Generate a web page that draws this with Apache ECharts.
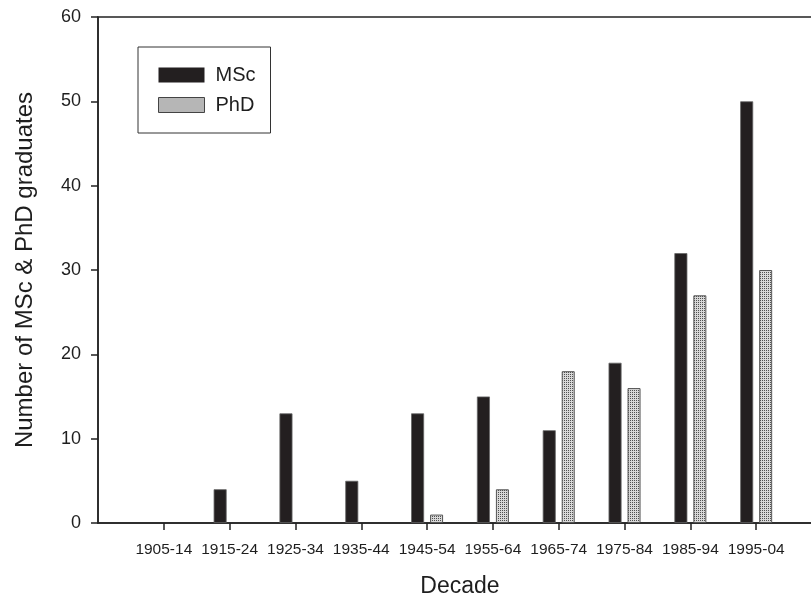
<!DOCTYPE html>
<html>
<head>
<meta charset="utf-8">
<script src="https://cdn.jsdelivr.net/npm/echarts@6/dist/echarts.min.js"></script>
<style>
html,body{margin:0;padding:0;background:#fff;}
#chart{width:811px;height:599px;}
</style>
</head>
<body>
<div id="chart"></div>
<script>
// Data
var decades = ['1905-14','1915-24','1925-34','1935-44','1945-54','1955-64','1965-74','1975-84','1985-94','1995-04'];
var mscValues = [0, 4, 13, 5, 13, 15, 11, 19, 32, 50];
var phdValues = [0, 0, 0, 0, 1, 4, 18, 16, 27, 30];
var yTicks = [0, 10, 20, 30, 40, 50, 60];

// padded categories so the axis runs one step past each end
var cats = [''].concat(decades).concat(['']);
var msc = [null].concat(mscValues.map(function(v){return v === 0 ? null : v;})).concat([null]);
var phd = [null].concat(phdValues.map(function(v){return v === 0 ? null : v;})).concat([null]);

// dotted pattern for PhD
var pc = document.createElement('canvas');
pc.width = 2; pc.height = 2;
var ctx = pc.getContext('2d');
ctx.fillStyle = '#d8d8d8'; ctx.fillRect(0,0,2,2);
ctx.fillStyle = '#505050'; ctx.fillRect(0,0,1,1);
var phdFill = {image: pc, repeat: 'repeat'};

var textColor = '#1e1e1e';
var font = 'Liberation Sans, Arial, sans-serif';

var chart = echarts.init(document.getElementById('chart'), null, {renderer: 'canvas'});
chart.setOption({
  animation: false,
  backgroundColor: '#fff',
  textStyle: {fontFamily: font, color: textColor},
  grid: {
    left: 98, top: 17, bottom: 76, width: 724,
    containLabel: false,
    outerBoundsMode: 'none',
    show: true, borderColor: '#222', borderWidth: 1.5, backgroundColor: 'transparent'
  },
  legend: {
    left: 138, top: 47,
    orient: 'vertical',
    padding: [18, 15, 18, 20],
    borderColor: '#333', borderWidth: 1,
    itemWidth: 46, itemHeight: 15, itemGap: 10,
    icon: 'rect',
    textStyle: {fontSize: 20, lineHeight: 15, color: textColor, fontFamily: font, padding: [0,0,0,6]},
    data: [
      {name: 'MSc', itemStyle: {borderWidth: 0}},
      {name: 'PhD', itemStyle: {color: phdFill, borderColor: '#444', borderWidth: 1}}
    ]
  },
  xAxis: {
    type: 'category',
    data: cats,
    boundaryGap: false,
    name: 'Decade',
    nameLocation: 'middle',
    nameGap: 52,
    nameTextStyle: {fontSize: 23, color: textColor, fontFamily: font},
    axisLine: {show: true, lineStyle: {color: '#222', width: 1.5}},
    axisTick: {show: true, length: 7, lineStyle: {color: '#222', width: 1.5},
      interval: function(i, v){ return v !== ''; }},
    axisLabel: {fontSize: 15.5, color: textColor, margin: 19, interval: 0, fontFamily: font},
    splitLine: {show: false}
  },
  yAxis: {
    type: 'value',
    min: 0, max: 60, interval: 10,
    name: 'Number of MSc & PhD graduates',
    nameLocation: 'middle',
    nameGap: 61,
    nameTextStyle: {fontSize: 24, color: textColor, fontFamily: font},
    axisLine: {show: true, lineStyle: {color: '#222', width: 1.5}},
    axisTick: {show: true, length: 7, lineStyle: {color: '#222', width: 1.5}},
    axisLabel: {fontSize: 18, color: textColor, margin: 17, fontFamily: font,
      formatter: function(v){ return yTicks.indexOf(v) >= 0 ? String(v) : ''; }},
    splitLine: {show: false}
  },
  series: [
    {
      name: 'MSc', type: 'bar', data: msc,
      barWidth: 13, barGap: '46%',
      itemStyle: {color: '#231f20', borderColor: '#666', borderWidth: 0.8}
    },
    {
      name: 'PhD', type: 'bar', data: phd,
      barWidth: 13, barGap: '46%',
      itemStyle: {color: phdFill, borderColor: '#555', borderWidth: 1}
    }
  ]
});
</script>
</body>
</html>
